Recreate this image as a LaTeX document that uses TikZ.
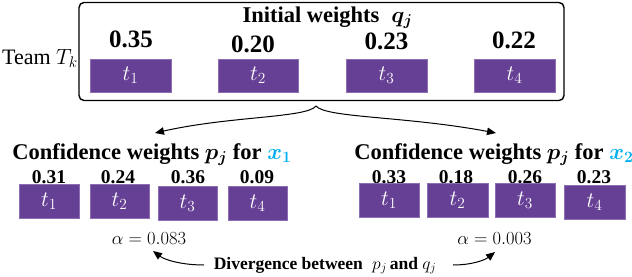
\RequirePackage{fix-cm}
\documentclass[tikz,border=0pt]{standalone}
\usepackage{fontspec}
\setmainfont{Liberation Serif}
\usepackage{bm}
\usetikzlibrary{arrows.meta}
\definecolor{tpurple}{RGB}{102,64,148}
\definecolor{tedge}{RGB}{140,110,180}
\definecolor{tcyan}{RGB}{0,176,240}
\begin{document}
\begin{tikzpicture}[x=1pt,y=-1pt,
  tbox/.style={fill=tpurple, draw=tedge, line width=0.6pt, minimum height=34pt, inner sep=0pt, text=white, font=\fontsize{22}{22}\selectfont},
  topnum/.style={anchor=base, font=\bfseries\fontsize{25}{25}\selectfont, inner sep=0pt},
  lownum/.style={anchor=base, font=\bfseries\fontsize{19.5}{19.5}\selectfont, inner sep=0pt},
  ttl/.style={anchor=base, font=\bfseries\fontsize{22.5}{22.5}\selectfont, inner sep=0pt},
  conn/.style={line width=1pt, -{Triangle[length=9pt,width=7.5pt]}},
]
\useasboundingbox (0,0) rectangle (632,276);

% team box
\node[draw, rounded corners=5pt, line width=1.4pt, minimum width=485pt, minimum height=98pt, inner sep=0pt] (team) at (321.5,51.5) {};
\node[ttl] (ttop) at (327.5,22) {Initial weights \;$\bm{q_j}$};
\node[anchor=base west, inner sep=0pt, font=\fontsize{22}{22}\selectfont] (tk) at (2,64) {Team $T_k$};

\node[topnum] (n1) at (131,47) {0.35};
\node[topnum] (n2) at (253,52) {0.20};
\node[topnum] (n3) at (386.5,49) {0.23};
\node[topnum] (n4) at (514,48) {0.22};

\node[tbox, minimum width=81pt, minimum height=33pt] (a1) at (130.5,75.5) {$t_1$};
\node[tbox, minimum width=80pt, minimum height=33pt] (a2) at (258,75.5) {$t_2$};
\node[tbox, minimum width=81pt, minimum height=33pt] (a3) at (386.5,75.5) {$t_3$};
\node[tbox, minimum width=81pt, minimum height=33pt] (a4) at (514.5,75.5) {$t_4$};

% left confidence
\node[ttl] (tl) at (152,159) {Confidence weights $\bm{p_j}$ for \textcolor{tcyan}{$\bm{x_1}$}};
\node[lownum] (l1n) at (49,183) {0.31};
\node[lownum] (l2n) at (118,183) {0.24};
\node[lownum] (l3n) at (188,183) {0.36};
\node[lownum] (l4n) at (257,183) {0.09};
\node[tbox, minimum width=60pt] (b1) at (49,201) {$t_1$};
\node[tbox, minimum width=59pt] (b2) at (119.5,201) {$t_2$};
\node[tbox, minimum width=59pt] (b3) at (187.5,203) {$t_3$};
\node[tbox, minimum width=59pt] (b4) at (257.5,203) {$t_4$};

% right confidence
\node[ttl] (tr) at (494,159) {Confidence weights $\bm{p_j}$ for \textcolor{tcyan}{$\bm{x_2}$}};
\node[lownum] (r1n) at (389,183) {0.33};
\node[lownum] (r2n) at (456,183) {0.18};
\node[lownum] (r3n) at (525,183) {0.26};
\node[lownum] (r4n) at (594,183) {0.23};
\node[tbox, minimum width=60pt] (c1) at (389,200) {$t_1$};
\node[tbox, minimum width=61pt] (c2) at (457.5,200) {$t_2$};
\node[tbox, minimum width=60pt] (c3) at (525,200) {$t_3$};
\node[tbox, minimum width=61pt] (c4) at (594.5,202) {$t_4$};

% alphas
\node[anchor=base, inner sep=0pt, font=\fontsize{18.5}{18.5}\selectfont] (al) at (149,244) {$\alpha = 0.083$};
\node[anchor=base, inner sep=0pt, font=\fontsize{18.5}{18.5}\selectfont] (ar) at (494.5,244) {$\alpha = 0.003$};
\node[anchor=base, inner sep=0pt, font=\bfseries\fontsize{17.5}{17.5}\selectfont] (div) at (325,269) {Divergence between \;$p_j$\,and $q_j$};

% connectors
\coordinate (split) at (316,106);
\coordinate (tipL) at (155,133);
\coordinate (tipR) at (496,133);
\draw[conn] (split) .. controls (307,118) and (230,116) .. (tipL);
\draw[conn] (split) .. controls (326,118) and (405,116) .. (tipR);

\coordinate (dl) at (204,265);
\coordinate (dr) at (453,265);
\coordinate (al tip) at (153,251);
\coordinate (ar tip) at (495,252);
\draw[conn] (dl) .. controls (182,265) and (165,260) .. (al tip);
\draw[conn] (dr) .. controls (472,265) and (485,260) .. (ar tip);
\end{tikzpicture}
\end{document}
